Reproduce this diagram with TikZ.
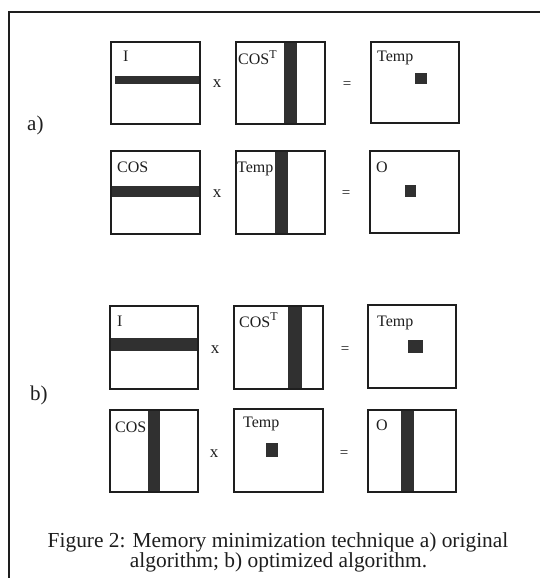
\documentclass[tikz,border=0pt]{standalone}
\usepackage{fontspec}
\setmainfont{Liberation Serif}
\definecolor{ink}{RGB}{30,30,30}
\definecolor{barc}{RGB}{48,48,48}
\newcommand\matbox[5]{%
  \node[mat,minimum width={#4-#2},minimum height={#5-#3}] (#1) at ({(#2+#4)/2},{(#3+#5)/2}) {};}
\newcommand\supT{\raisebox{0.42em}{\fontsize{12}{12}\selectfont T}}
\begin{document}
\begin{tikzpicture}[x=1pt,y=-1pt,
  mat/.style={draw=ink,line width=1.6pt,inner sep=0pt,outer sep=0pt},
  barf/.style={fill=barc},
  lab/.style={inner sep=0pt,anchor=base west,text=ink,font=\fontsize{16}{16}\selectfont},
  times/.style={inner sep=0pt,anchor=base,text=ink,font=\fontsize{17}{17}\selectfont},
  eqs/.style={inner sep=0pt,anchor=center,text=ink,font=\fontsize{15}{15}\selectfont},
  part/.style={inner sep=0pt,anchor=base west,text=ink,font=\fontsize{21}{21}\selectfont},
  capt/.style={inner sep=0pt,anchor=base,text=ink,font=\fontsize{21.4}{21.4}\selectfont}]
\useasboundingbox (0,0) rectangle (540,578);
\fill[white] (0,0) rectangle (540,578);
% frame
\coordinate (ftr) at (540,12);
\coordinate (ftl) at (9,12);
\coordinate (fbl) at (9,578);
\draw[ink,line width=2pt] (ftr) -- (ftl) -- (fbl);
% bars
\fill[barf] (115,76) rectangle (200,84);
\fill[barf] (284,42) rectangle (297,124);
\fill[barf] (415,73) rectangle (427,84);
\fill[barf] (111,186) rectangle (200,197);
\fill[barf] (275,151) rectangle (288,234);
\fill[barf] (405,185) rectangle (416,197);
\fill[barf] (110,338) rectangle (198,351);
\fill[barf] (288,306) rectangle (302,389);
\fill[barf] (408,340) rectangle (423,353);
\fill[barf] (148,410) rectangle (160,492);
\fill[barf] (266,443) rectangle (278,457);
\fill[barf] (401,410) rectangle (414,492);
% boxes
\matbox{aI}{111}{42}{200}{124}
\matbox{aC}{236}{42}{325}{124}
\matbox{aT}{371}{42}{459}{123}
\matbox{cC}{111}{151}{200}{234}
\matbox{cT}{236}{151}{325}{234}
\matbox{cO}{370}{151}{459}{233}
\matbox{bI}{110}{306}{198}{389}
\matbox{bC}{234}{306}{323}{389}
\matbox{bT}{368}{305}{456}{388}
\matbox{dC}{110}{410}{198}{492}
\matbox{dT}{234}{409}{323}{492}
\matbox{dO}{368}{410}{456}{492}
% labels
\node[lab] (aIl) at (123,62) {I};
\node[lab] (aCl) at (238,65) {COS\supT};
\node[lab] (aTl) at (377,62) {Temp};
\node[lab] (cCl) at (117,172) {COS};
\node[lab] (cTl) at (237,172) {Temp};
\node[lab] (cOl) at (376,172) {O};
\node[lab] (bIl) at (117,326) {I};
\node[lab] (bCl) at (239,327) {COS\supT};
\node[lab] (bTl) at (377,326) {Temp};
\node[lab] (dCl) at (115,432) {COS};
\node[lab] (dTl) at (243,427) {Temp};
\node[lab] (dOl) at (376,430) {O};
% operators
\node[times] (ax) at (217,88) {x};
\node[times] (cx) at (217,197) {x};
\node[times] (bx) at (215,353) {x};
\node[times] (dx) at (214,457) {x};
\node[eqs] (aeq) at (347,85) {=};
\node[eqs] (ceq) at (346,194) {=};
\node[eqs] (beq) at (345,350) {=};
\node[eqs] (deq) at (344,454) {=};
% part labels
\node[part] (pa) at (27,130) {a)};
\node[part] (pb) at (30,400) {b)};
% caption
\node[capt] (cap1) at (278,547) {Figure 2: Memory minimization technique a) original};
\node[capt] (cap2) at (278.5,567) {algorithm; b) optimized algorithm.};
\end{tikzpicture}
\end{document}
